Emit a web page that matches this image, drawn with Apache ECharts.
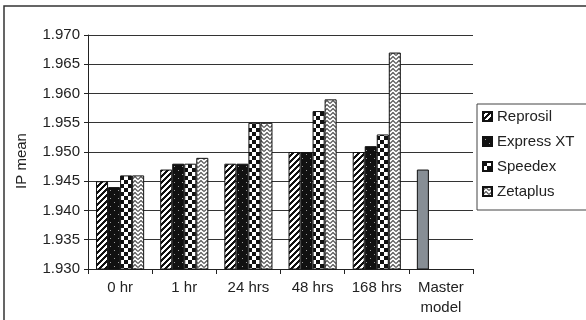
<!DOCTYPE html>
<html>
<head>
<meta charset="utf-8">
<style>
  html, body { margin: 0; padding: 0; background: #fff; }
  #chart { width: 586px; height: 320px; }
</style>
<script src="https://cdn.jsdelivr.net/npm/echarts@6/dist/echarts.min.js"></script>
</head>
<body>
<div id="chart"></div>
<script>
// Impression stability: mean IP value per material over time
const categories = ['0 hr', '1 hr', '24 hrs', '48 hrs', '168 hrs', 'Master\nmodel'];
const seriesNames = ['Reprosil', 'Express XT', 'Speedex', 'Zetaplus'];
const reprosil  = [1.945, 1.947, 1.948, 1.950, 1.950];
const expressXT = [1.944, 1.948, 1.948, 1.950, 1.951];
const speedex   = [1.946, 1.948, 1.955, 1.957, 1.953];
const zetaplus  = [1.946, 1.949, 1.955, 1.959, 1.967];
const masterModel = 1.947;
const yTicks = { min: 1.930, max: 1.970, step: 0.005 };

// Small canvas tiles used as fill patterns
function tile(w, h, draw) {
  const c = document.createElement('canvas');
  c.width = w; c.height = h;
  const g = c.getContext('2d');
  g.fillStyle = '#fff';
  g.fillRect(0, 0, w, h);
  draw(g, w, h);
  return { image: c, repeat: 'repeat' };
}
const hatch = tile(6, 6, (g, w, h) => {
  g.fillStyle = '#111';
  for (let x = 0; x < w; x++) for (let y = 0; y < h; y++)
    if ((x + y) % 6 < 3) g.fillRect(x, y, 1, 1);
});
const dotted = tile(8, 8, (g) => {
  g.fillStyle = '#111';
  g.fillRect(0, 0, 8, 8);
  g.fillStyle = '#9a9a9a';
  g.fillRect(2, 2, 1, 1);
  g.fillRect(6, 6, 1, 1);
});
const checker = tile(8, 8, (g) => {
  g.fillStyle = '#111';
  g.fillRect(0, 0, 4, 4);
  g.fillRect(4, 4, 4, 4);
});
const zigzag = tile(6, 4, (g) => {
  g.strokeStyle = '#555';
  g.lineWidth = 1.2;
  g.beginPath();
  g.moveTo(0, 3.5); g.lineTo(3, 0.5); g.lineTo(6, 3.5);
  g.stroke();
});
const fills = [hatch, dotted, checker, zigzag];

const pad = arr => arr.concat([null]);
const seriesData = [
  reprosil.concat([{ value: masterModel, itemStyle: { color: '#878e95' } }]),
  pad(expressXT),
  pad(speedex),
  pad(zetaplus)
];

const font = 'Liberation Sans, Arial, sans-serif';
const chart = echarts.init(document.getElementById('chart'), null, { renderer: 'canvas' });
chart.setOption({
  animation: false,
  backgroundColor: '#fff',
  textStyle: { fontFamily: font },
  grid: { left: 88, right: 113, top: 35, bottom: 51, containLabel: false },
  legend: {
    orient: 'vertical',
    left: 477, top: 104,
    itemWidth: 9, itemHeight: 9,
    itemGap: 10,
    icon: 'rect',
    textStyle: { fontFamily: font, fontSize: 15, color: '#222' },
    data: seriesNames
  },
  graphic: [
    { type: 'rect', shape: { x: 4, y: 6, width: 620, height: 360 }, style: { fill: 'none', stroke: '#333', lineWidth: 1.5 }, silent: true },
    { type: 'rect', shape: { x: 477, y: 104, width: 140, height: 106 }, style: { fill: 'none', stroke: '#444', lineWidth: 1 }, silent: true }
  ],
  xAxis: {
    type: 'category',
    data: categories,
    axisLine: { lineStyle: { color: '#222', width: 1 } },
    axisTick: { show: true, length: 5, lineStyle: { color: '#222' } },
    axisLabel: { fontFamily: font, fontSize: 15, color: '#222', margin: 9, lineHeight: 20, interval: 0 }
  },
  yAxis: {
    type: 'value',
    min: yTicks.min, max: yTicks.max, interval: yTicks.step,
    name: 'IP mean',
    nameLocation: 'middle',
    nameGap: 59,
    nameTextStyle: { fontFamily: font, fontSize: 15, color: '#222', padding: [0, 18, 0, 0] },
    axisLine: { show: true, lineStyle: { color: '#222', width: 1 } },
    axisTick: { show: true, length: 4, lineStyle: { color: '#222' } },
    axisLabel: { fontFamily: font, fontSize: 15, color: '#222', margin: 8, formatter: v => v.toFixed(3) },
    splitLine: { show: true, lineStyle: { color: '#333', width: 1 } }
  },
  series: seriesNames.map((name, i) => ({
    name,
    type: 'bar',
    data: seriesData[i],
    barGap: '0%',
    barCategoryGap: '25%',
    itemStyle: { color: fills[i], borderColor: '#111', borderWidth: 1 }
  }))
});
</script>
</body>
</html>
